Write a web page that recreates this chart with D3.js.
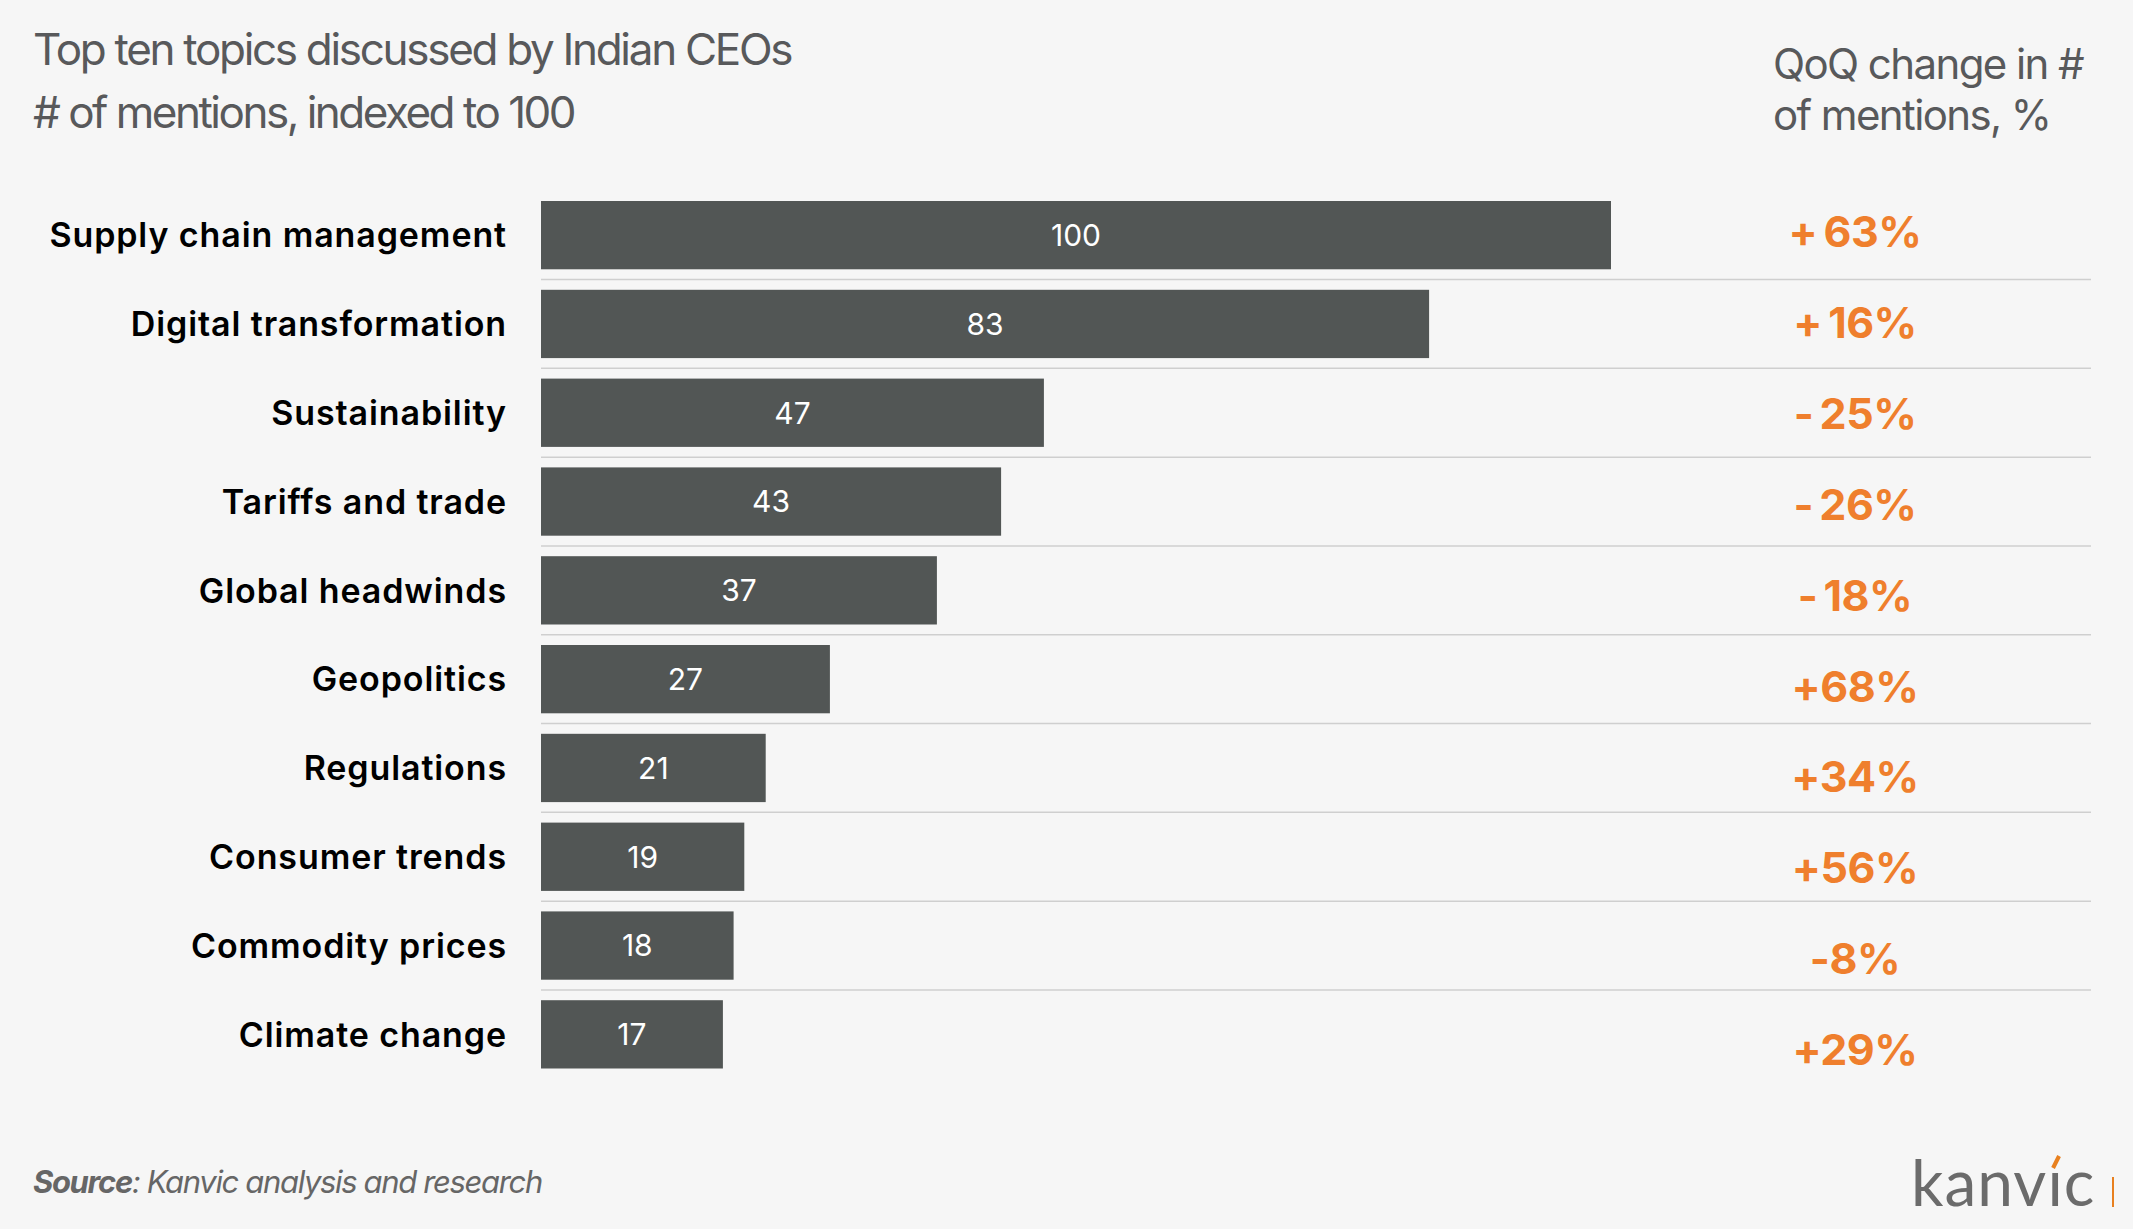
<!DOCTYPE html>
<html><head><meta charset="utf-8">
<script src="https://cdn.jsdelivr.net/npm/d3@7"></script>
<style>
html,body{margin:0;padding:0;background:#f6f6f6;}
svg{display:block;}
</style>
</head><body>
<svg id="chart" width="2133" height="1229"></svg>
<script>
// ---- data ----
const categories = ["Supply chain management","Digital transformation","Sustainability","Tariffs and trade","Global headwinds","Geopolitics","Regulations","Consumer trends","Commodity prices","Climate change"];
const mentions = [100, 83, 47, 43, 37, 27, 21, 19, 18, 17];
const qoqChange = [63, 16, -25, -26, -18, 68, 34, 56, -8, 29];
const qoqLabels = ["+\u200963%","+\u200916%","-\u200925%","-\u200926%","-\u200918%","+68%","+34%","+56%","-8%","+29%"];
const titleText = "Top ten topics discussed by Indian CEOs";
const subtitleText = "# of mentions, indexed to 100";
const rightHeader = ["QoQ change in #", "of mentions, %"];
const sourceBold = "Source";
const sourceRest = ": Kanvic analysis and research";
const xDomain = [0, 100];

// ---- layout ----
const W = 2133, H = 1229;
const svg = d3.select("#chart");
svg.append("rect").attr("width", W).attr("height", H).attr("fill", "#f6f6f6");

const x = d3.scaleLinear().domain(xDomain).range([541, 1611]);
const y = d3.scaleBand().domain(categories).range([201, 1068.5]).paddingInner(0.231).paddingOuter(0);
const yPct = d3.scalePoint().domain(categories).range([232, 1049.5]);

const sans = "Inter, 'Noto Sans', 'Liberation Sans', sans-serif";
const grey = "#58595b";

// Title
svg.append("text").attr("x", 33).attr("y", 65)
  .attr("font-family", sans).attr("font-size", 44).attr("fill", grey)
  .attr("letter-spacing", -2.3)
  .text(titleText);
svg.append("text").attr("x", 33).attr("y", 128)
  .attr("font-family", sans).attr("font-size", 44).attr("fill", grey)
  .attr("letter-spacing", -2.5)
  .text(subtitleText);

// Right header
svg.append("g").selectAll("text").data(rightHeader).join("text")
  .attr("x", 1773).attr("y", (d, i) => 79 + i * 51)
  .attr("font-family", sans).attr("font-size", 42).attr("fill", grey)
  .attr("letter-spacing", -1.6)
  .text(d => d);

// Separator lines
const sepCats = categories.slice(0, -1);
const gap = y.step() - y.bandwidth();
svg.append("g").selectAll("line").data(sepCats).join("line")
  .attr("x1", x(0)).attr("x2", 2091)
  .attr("y1", d => y(d) + y.bandwidth() + gap / 2)
  .attr("y2", d => y(d) + y.bandwidth() + gap / 2)
  .attr("stroke", "#cfcfcf").attr("stroke-width", 1.5);

// Bars
svg.append("g").selectAll("rect").data(categories).join("rect")
  .attr("x", x(0))
  .attr("y", d => y(d))
  .attr("width", (d, i) => x(mentions[i]) - x(0))
  .attr("height", y.bandwidth())
  .attr("fill", "#525655");

// Bar values
svg.append("g").selectAll("text").data(categories).join("text")
  .attr("x", (d, i) => (x(0) + x(mentions[i])) / 2)
  .attr("y", d => y(d) + y.bandwidth() / 2)
  .attr("dy", "0.36em")
  .attr("text-anchor", "middle")
  .attr("font-family", sans).attr("font-size", 30).attr("fill", "#ffffff")
  .text((d, i) => mentions[i]);

// Category labels
svg.append("g").selectAll("text").data(categories).join("text")
  .attr("x", 507)
  .attr("y", d => y(d) + y.bandwidth() / 2)
  .attr("dy", "0.36em")
  .attr("text-anchor", "end")
  .attr("font-family", sans).attr("font-size", 34).attr("font-weight", 600).attr("fill", "#000")
  .attr("letter-spacing", 0.9)
  .text(d => d);

// QoQ labels
svg.append("g").selectAll("text").data(categories).join("text")
  .attr("x", 1855)
  .attr("y", d => yPct(d))
  .attr("dy", "0.36em")
  .attr("text-anchor", "middle")
  .attr("font-family", sans).attr("font-size", 43).attr("font-weight", 700).attr("fill", "#ef7f2d")
  .attr("letter-spacing", -0.5)
  .text((d, i) => qoqLabels[i]);

// Source
const src = svg.append("text").attr("x", 33).attr("y", 1193)
  .attr("font-family", sans).attr("font-size", 31).attr("fill", "#666666")
  .attr("font-style", "italic").attr("letter-spacing", -1.35);
src.append("tspan").attr("font-weight", 700).text(sourceBold);
src.append("tspan").text(sourceRest);

// Logo
const logo = svg.append("text").attr("x", 1911).attr("y", 1206)
  .attr("font-family", "Lato, 'Open Sans', sans-serif").attr("font-size", 64)
  .attr("fill", "#6b6b6b").attr("letter-spacing", 1)
  .text("kanvic");
const iExt = logo.node().getExtentOfChar(4);
const iCx = iExt.x + iExt.width / 2 - 0.5;
svg.append("rect").attr("x", iCx - 7).attr("y", 1206 - 50).attr("width", 14).attr("height", 15)
  .attr("fill", "#f6f6f6");
svg.append("line").attr("x1", iCx - 2).attr("y1", 1168).attr("x2", iCx + 4).attr("y2", 1156)
  .attr("stroke", "#e8801f").attr("stroke-width", 4).attr("stroke-linecap", "butt");
svg.append("line").attr("x1", 2113).attr("x2", 2113).attr("y1", 1177).attr("y2", 1207)
  .attr("stroke", "#e8801f").attr("stroke-width", 2);
</script>
</body></html>
